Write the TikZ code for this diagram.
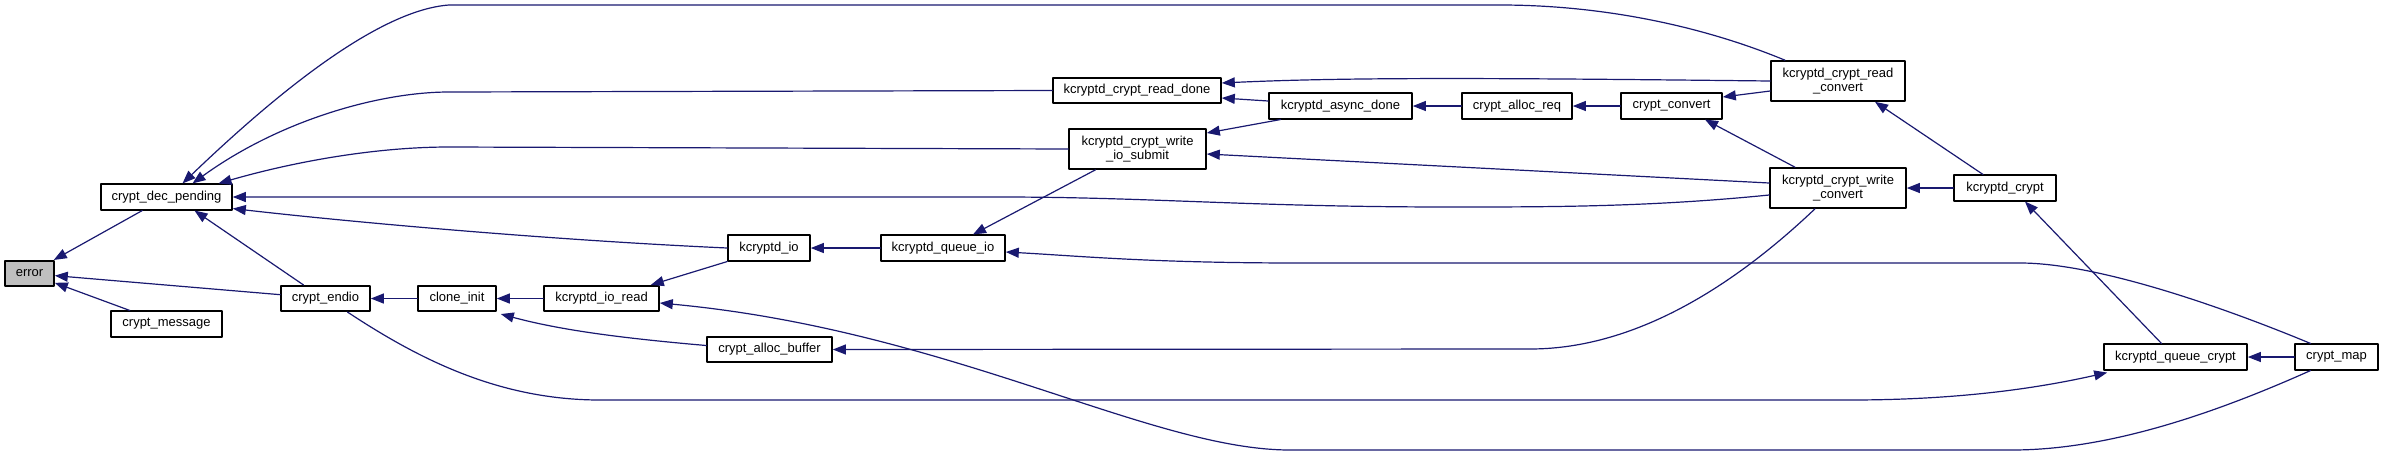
\documentclass[tikz,border=0pt]{standalone}
\usepackage{fontspec}
\setmainfont{Liberation Sans}
\usetikzlibrary{arrows.meta}
\definecolor{callblue}{RGB}{25,25,112}

\begin{document}
\begin{tikzpicture}[
    x=0.5pt, y=-0.5pt,
    line cap=round,
    line join=round,
    fn/.style={draw=black, line width=0.8pt, fill=white, inner sep=0pt,
        minimum height=12.75pt, align=center,
        font=\fontsize{6.5pt}{7.4pt}\selectfont},
    tall/.style={minimum height=20pt},
    boxw/.style={minimum width=#1*0.5pt},
    root/.style={fill=black!25},
    call/.style={draw=callblue, line width=0.6pt,
        -{Triangle[length=6.5pt,width=5pt]}}
]

\useasboundingbox (0,0) rectangle (2384,456);

% -------------------------------------------------
% Функции
% -------------------------------------------------

\node[fn, root, boxw=49]  (error) at (29.5,273.5)  {error};
\node[fn, boxw=131]       (dec)   at (166.5,197)   {crypt\_dec\_pending};
\node[fn, boxw=111]       (msg)   at (166.5,324)   {crypt\_message};
\node[fn, boxw=89]        (endio) at (325.5,298.5) {crypt\_endio};
\node[fn, boxw=78]        (ci)    at (457,298.5)   {clone\_init};
\node[fn, boxw=115]       (ior)   at (601.5,298.5) {kcryptd\_io\_read};
\node[fn, boxw=82]        (kio)   at (769,248)     {kcryptd\_io};
\node[fn, boxw=125]       (ab)    at (769.5,349.5) {crypt\_alloc\_buffer};
\node[fn, boxw=124]       (qio)   at (943,248)     {kcryptd\_queue\_io};
\node[fn, boxw=168]       (rd)    at (1137,90.5)   {kcryptd\_crypt\_read\_done};
\node[fn, tall, boxw=137] (ws)    at (1137.5,149)  {kcryptd\_crypt\_write\\\_io\_submit};
\node[fn, boxw=143]       (ad)    at (1340.5,106)  {kcryptd\_async\_done};
\node[fn, boxw=110]       (ar)    at (1517,106)    {crypt\_alloc\_req};
\node[fn, boxw=101]       (cv)    at (1671.5,106)  {crypt\_convert};
\node[fn, tall, boxw=134] (rc)    at (1838,81)     {kcryptd\_crypt\_read\\\_convert};
\node[fn, tall, boxw=136] (wc)    at (1838,188)    {kcryptd\_crypt\_write\\\_convert};
\node[fn, boxw=102]       (kc)    at (2005,188)    {kcryptd\_crypt};
\node[fn, boxw=143]       (qc)    at (2175.5,357)  {kcryptd\_queue\_crypt};
\node[fn, boxw=83]        (cm)    at (2336.5,357)  {crypt\_map};

% -------------------------------------------------
% Вызовы в error
% -------------------------------------------------

\draw[call] (dec) -- (error);
\draw[call] (endio) -- (error);
\draw[call] (msg) -- (error);

% -------------------------------------------------
% Вызовы в crypt_dec_pending
% -------------------------------------------------

\draw[call] ([xshift=-26.5pt]rc.north) .. controls (1700,25) and (1600,5) .. (1500,5)
    -- (449,5) .. controls (380,10) and (280,90) .. ([xshift=8pt]dec.north);
\draw[call] (rd.west) -- (449,92) .. controls (380,92) and (280,120) .. ([xshift=13pt]dec.north);
\draw[call] (ws.west) -- (449,147) .. controls (380,147) and (300,160) .. ([xshift=26pt]dec.north);
\draw[call] ([yshift=-3.5pt]wc.west) .. controls (1650,207) and (1550,207) .. (1450,207)
    .. controls (1250,207) and (1150,197) .. (1000,197) -- (dec.east);
\draw[call] (kio.west) .. controls (550,240) and (350,222) .. ([yshift=1pt]dec.south east);
\draw[call] ([xshift=-11pt]endio.north) -- ([xshift=14pt]dec.south);

% -------------------------------------------------
% Нижняя часть
% -------------------------------------------------

\draw[call] (ci) -- (endio);
\draw[call] (ior) -- (ci);
\draw[call] ([yshift=2pt]ab.west) .. controls (620,338) and (560,330) .. ([xshift=2pt,yshift=-1pt]ci.south east);
\draw[call] (kio.south west) -- ([xshift=-4.5pt]ior.north east);
\draw[call] ([xshift=-13pt]cm.south) .. controls (2200,420) and (2100,450) .. (2012,450)
    -- (1290,450) .. controls (1150,450) and (950,330) .. ([yshift=-2.25pt]ior.east);
\draw[call] (qio) -- (kio);
\draw[call] ([xshift=-21pt]ws.south) -- ([xshift=15pt]qio.north);
\draw[call] ([xshift=-13pt]cm.north) .. controls (2230,310) and (2100,263) .. (2020,263)
    -- (1300,263) .. controls (1150,263) and (1080,256) .. ([yshift=-2pt]qio.east);
\draw[call] ([xshift=11pt]endio.south) .. controls (420,360) and (500,400) .. (600,400)
    -- (1850,400) .. controls (1950,400) and (2030,390) .. ([xshift=2pt,yshift=-1pt]qc.south west);
\draw[call] ([xshift=-11.5pt]wc.south) .. controls (1740,280) and (1640,349) .. (1530,349) -- (ab.east);

% -------------------------------------------------
% Верхняя часть
% -------------------------------------------------

\draw[call] ([yshift=2.5pt]ad.west) -- ([yshift=-3.75pt]rd.east);
\draw[call] (rc.west) .. controls (1500,78) and (1350,77) .. ([yshift=3.75pt]rd.east);
\draw[call] ([xshift=-30pt]ad.south) -- ([yshift=8pt]ws.east);
\draw[call] ([yshift=2.5pt]wc.west) -- ([yshift=-2.5pt]ws.east);
\draw[call] (ar) -- (ad);
\draw[call] (cv) -- (ar);
\draw[call] ([yshift=-5pt]rc.west) -- ([yshift=4.5pt]cv.east);
\draw[call] ([xshift=-21.5pt]wc.north) -- ([xshift=16.75pt]cv.south);
\draw[call] (kc) -- (wc);
\draw[call] ([xshift=-11pt]kc.north) -- ([xshift=18.5pt]rc.south);
\draw[call] ([xshift=-7pt]qc.north) -- ([xshift=10pt]kc.south);
\draw[call] (cm) -- (qc);

\end{tikzpicture}
\end{document}
